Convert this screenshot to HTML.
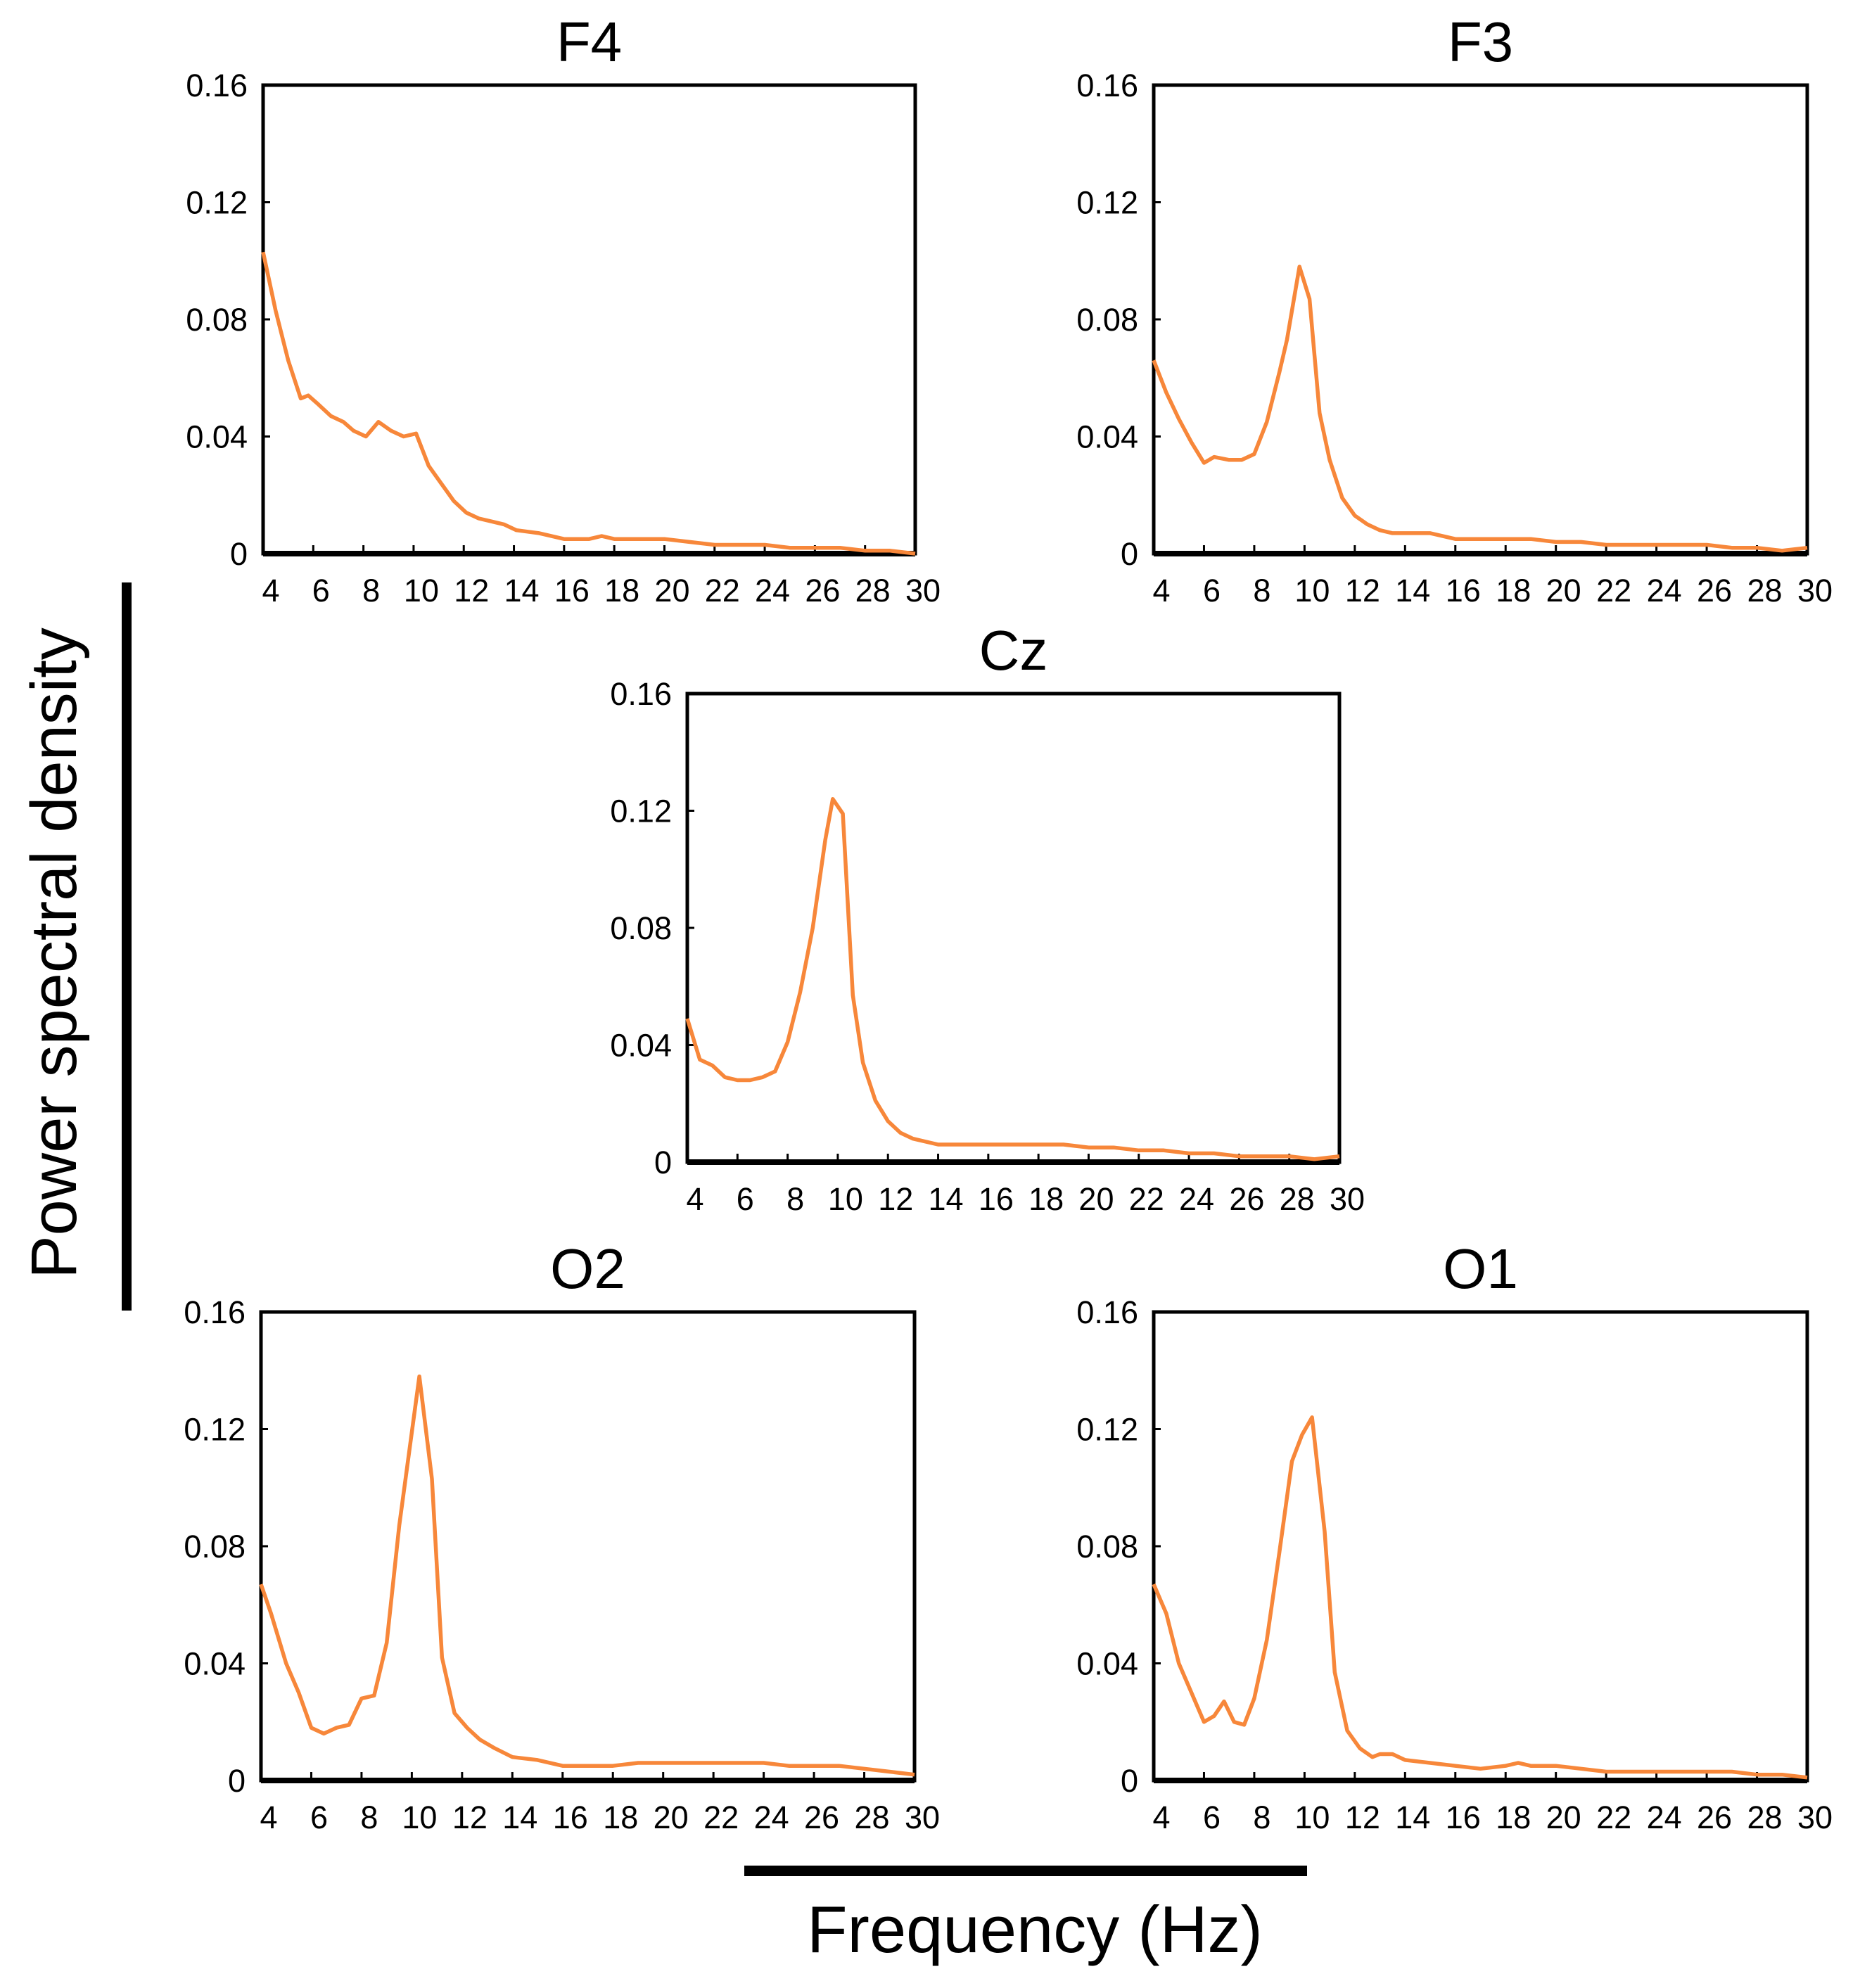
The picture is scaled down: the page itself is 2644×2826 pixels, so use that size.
<!DOCTYPE html>
<html><head><meta charset="utf-8"><style>
html,body{margin:0;padding:0;background:#fff;}
svg{display:block;font-family:"Liberation Sans",sans-serif;}
</style></head><body>
<svg id="fig" width="2644" height="2826" viewBox="0 0 2644 2826" xmlns="http://www.w3.org/2000/svg">
<rect x="173" y="828" width="14" height="1035" fill="#000"/>
<rect x="1058" y="2652" width="800" height="15" fill="#000"/>
<text x="0" y="0" transform="translate(108,1355) rotate(-90)" text-anchor="middle" font-size="92" fill="#000">Power spectral density</text>
<text x="1471" y="2775" text-anchor="middle" font-size="94" fill="#000">Frequency (Hz)</text>
</svg>
<script>
const xTicks = [4,6,8,10,12,14,16,18,20,22,24,26,28,30];
const yTicks = [0,0.04,0.08,0.12,0.16];
const yTickLabels = ["0","0.04","0.08","0.12","0.16"];

const f4Freq = [4,4.5,5,5.5,5.8,6.2,6.7,7.2,7.6,8.1,8.6,9.1,9.6,10.1,10.6,11.1,11.6,12.1,12.6,13.1,13.6,14.1,15,16,17,17.5,18,19,20,21,22,23,24,25,26,27,28,29,30];
const f4Vals = [0.103,0.083,0.066,0.053,0.054,0.051,0.047,0.045,0.042,0.040,0.045,0.042,0.040,0.041,0.030,0.024,0.018,0.014,0.012,0.011,0.010,0.008,0.007,0.005,0.005,0.006,0.005,0.005,0.005,0.004,0.003,0.003,0.003,0.002,0.002,0.002,0.001,0.001,0.0];

const f3Freq = [4,4.5,5,5.5,6,6.4,7,7.5,8,8.5,9,9.3,9.8,10.2,10.6,11,11.5,12,12.5,13,13.5,14,15,16,17,18,19,20,21,22,23,24,25,26,27,28,29,30];
const f3Vals = [0.066,0.055,0.046,0.038,0.031,0.033,0.032,0.032,0.034,0.045,0.062,0.073,0.098,0.087,0.048,0.032,0.019,0.013,0.010,0.008,0.007,0.007,0.007,0.005,0.005,0.005,0.005,0.004,0.004,0.003,0.003,0.003,0.003,0.003,0.002,0.002,0.001,0.002];

const czFreq = [4,4.5,5,5.5,6,6.5,7,7.5,8,8.5,9,9.5,9.8,10.2,10.6,11,11.5,12,12.5,13,14,15,16,17,18,19,20,21,22,23,24,25,26,27,28,29,30];
const czVals = [0.049,0.035,0.033,0.029,0.028,0.028,0.029,0.031,0.041,0.058,0.080,0.110,0.124,0.119,0.057,0.034,0.021,0.014,0.010,0.008,0.006,0.006,0.006,0.006,0.006,0.006,0.005,0.005,0.004,0.004,0.003,0.003,0.002,0.002,0.002,0.001,0.002];

const o2Freq = [4,4.4,5,5.5,6,6.5,7,7.5,8,8.5,9,9.5,10.3,10.8,11.2,11.7,12.2,12.7,13.3,14,15,16,17,18,19,20,22,24,25,26,27,28,29,30];
const o2Vals = [0.067,0.057,0.040,0.030,0.018,0.016,0.018,0.019,0.028,0.029,0.047,0.087,0.138,0.103,0.042,0.023,0.018,0.014,0.011,0.008,0.007,0.005,0.005,0.005,0.006,0.006,0.006,0.006,0.005,0.005,0.005,0.004,0.003,0.002];

const o1Freq = [4,4.5,5,5.5,6,6.4,6.8,7.2,7.6,8,8.5,9,9.5,9.9,10.3,10.8,11.2,11.7,12.2,12.7,13,13.5,14,15,16,17,18,18.5,19,20,21,22,24,26,27,28,29,30];
const o1Vals = [0.067,0.057,0.040,0.030,0.020,0.022,0.027,0.020,0.019,0.028,0.048,0.078,0.109,0.118,0.124,0.085,0.037,0.017,0.011,0.008,0.009,0.009,0.007,0.006,0.005,0.004,0.005,0.006,0.005,0.005,0.004,0.003,0.003,0.003,0.003,0.002,0.002,0.001];

const panels = [
  {name:"f4", title:"F4", x0:374, x1:1301, y0:121, y1:787, freq:f4Freq, vals:f4Vals},
  {name:"f3", title:"F3", x0:1640, x1:2569, y0:121, y1:787, freq:f3Freq, vals:f3Vals},
  {name:"cz", title:"Cz", x0:977, x1:1904, y0:986, y1:1652, freq:czFreq, vals:czVals},
  {name:"o2", title:"O2", x0:371, x1:1300, y0:1865, y1:2531, freq:o2Freq, vals:o2Vals},
  {name:"o1", title:"O1", x0:1640, x1:2569, y0:1865, y1:2531, freq:o1Freq, vals:o1Vals}
];
const NS = "http://www.w3.org/2000/svg";
const svg = document.getElementById("fig");
function mk(tag, attrs, parent){
  const e = document.createElementNS(NS, tag);
  for (const k in attrs) e.setAttribute(k, attrs[k]);
  parent.appendChild(e);
  return e;
}
panels.forEach(p => {
  const g = mk("g", {}, svg);
  
  
  const xs = f => p.x0 + (f - 4) / 26 * (p.x1 - p.x0);
  const ys = v => p.y1 - v / 0.16 * (p.y1 - p.y0);
  const title = mk("text", {x:(p.x0+p.x1)/2, y:p.y0-34, "text-anchor":"middle", "font-size":80, fill:"#000"}, g);
  title.textContent = p.title;
  
  
  const frame = mk("rect", {x:p.x0, y:p.y0, width:p.x1-p.x0, height:p.y1-p.y0, fill:"none", stroke:"#000", "stroke-width":5}, g);
  
  
  const ax = mk("line", {x1:p.x0, x2:p.x1, y1:p.y1, y2:p.y1, stroke:"#000", "stroke-width":8}, g);
  
  
  yTicks.forEach((t, i) => {
    const tk = mk("line", {x1:p.x0, x2:p.x0+10, y1:ys(t), y2:ys(t), stroke:"#000", "stroke-width":3}, g);
    
    
    const lb = mk("text", {x:p.x0-22, y:ys(t)+16, "text-anchor":"end", "font-size":45, fill:"#000"}, g);
    lb.textContent = yTickLabels[i];
    
    
  });
  xTicks.forEach(t => {
    const tk = mk("line", {x1:xs(t), x2:xs(t), y1:p.y1, y2:p.y1-12, stroke:"#000", "stroke-width":3}, g);
    
    
    const lb = mk("text", {x:xs(t)+11, y:p.y1+68, "text-anchor":"middle", "font-size":45, fill:"#000"}, g);
    lb.textContent = String(t);
    
    
  });
  const pts = p.freq.map((f, i) => xs(f).toFixed(1) + "," + ys(p.vals[i]).toFixed(1)).join(" ");
  const line = mk("polyline", {points:pts, fill:"none", stroke:"#f7873a", "stroke-width":5.5, "stroke-linejoin":"round"}, g);
  
  
});
</script>
</body></html>
